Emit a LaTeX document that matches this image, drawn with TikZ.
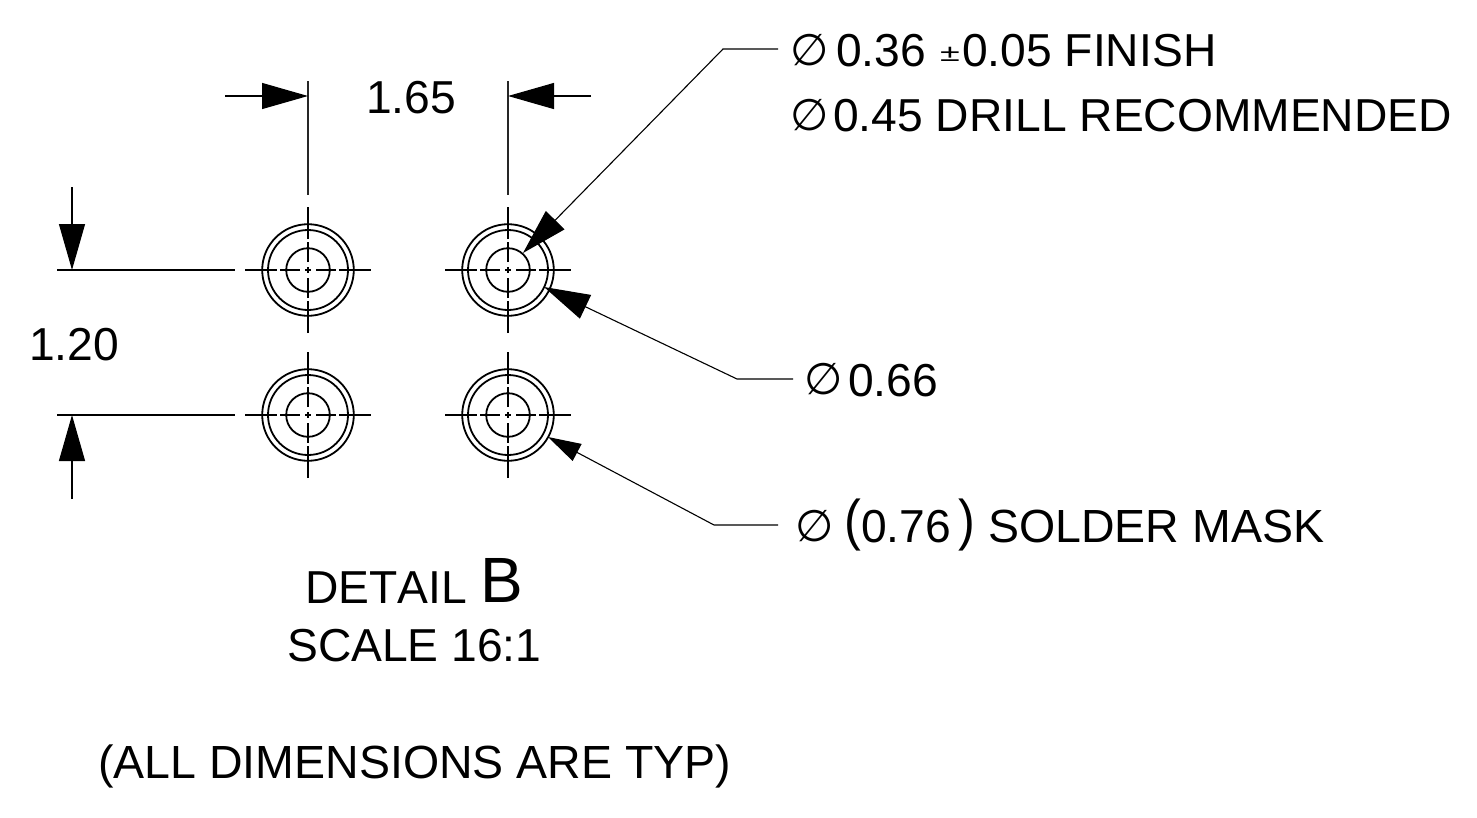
\documentclass[tikz,border=0pt]{standalone}
\usepackage{fontspec}
\usepackage{graphicx}
\setmainfont[Kerning=Off]{Liberation Sans}
\newfontfamily\dfont{DejaVu Sans}
\usetikzlibrary{arrows.meta}
\newcommand{\dia}{{\dfont\fontsize{44}{44}\selectfont ∅}}
\begin{document}
\begin{tikzpicture}[x=1pt,y=-1pt,
  thinline/.style={line width=1.1pt,black!85},
  ctr/.style={line width=1.1pt,black},
  ringa/.style={draw,circle,line width=1.8pt,inner sep=0pt},
  head/.style={-{Triangle[length=46pt,width=26pt]}},
  smallhead/.style={-{Triangle[length=33pt,width=19pt]}},
  lbl/.style={inner sep=0pt,anchor=base west,font=\fontsize{46.2}{46.2}\selectfont},
  lblw/.style={lbl,font=\fontsize{46.5}{46.5}\selectfont},
  sym/.style={inner sep=0pt,anchor=center}]
\useasboundingbox (0,0) rectangle (1477,817);
\fill[white] (0,0) rectangle (1477,817);

% holes
\foreach \n/\x/\y in {tl/308/270,tr/508/270,bl/308/415,br/508/415}{
  \coordinate (\n) at (\x,\y);
  \node[ringa,minimum size=91.6pt] (\n o) at (\n) {};
  \node[ringa,minimum size=80pt] (\n m) at (\n) {};
  \node[ringa,minimum size=43.6pt] (\n i) at (\n) {};
  \foreach \a/\b in {-63/-31,-28/-8,-3/3,8/28,31/63}{
    \draw[ctr] ([xshift=\a pt]\n) -- ([xshift=\b pt]\n);
    \draw[ctr] ([yshift=\a pt]\n) -- ([yshift=\b pt]\n);
  }
}

% horizontal dimension 1.65
\coordinate (e1a) at (308,81); \coordinate (e1b) at (308,195);
\coordinate (e2a) at (508,81); \coordinate (e2b) at (508,195);
\draw[thinline] (e1a) -- (e1b);
\draw[thinline] (e2a) -- (e2b);
\coordinate (t1) at (225,96); \coordinate (t1h) at (308,96);
\coordinate (t2) at (591,96); \coordinate (t2h) at (508,96);
\draw[thinline,head,black] (t1) -- (t1h);
\draw[thinline,head,black] (t2) -- (t2h);
\node[lbl] (d165) at (366,113) {1.65};

% vertical dimension 1.20
\coordinate (e3a) at (57,270); \coordinate (e3b) at (235,270);
\coordinate (e4a) at (57,415); \coordinate (e4b) at (235,415);
\draw[ctr] (e3a) -- (e3b);
\draw[ctr] (e4a) -- (e4b);
\coordinate (t3) at (72,187); \coordinate (t3h) at (72,270);
\coordinate (t4) at (72,499); \coordinate (t4h) at (72,415);
\draw[ctr,head] (t3) -- (t3h);
\draw[ctr,head] (t4) -- (t4h);
\node[lbl] (d120) at (29,360) {1.20};

% leaders
\coordinate (l1s) at (778,49); \coordinate (l1k) at (723,49); \coordinate (l1t) at (523,253);
\coordinate (l2s) at (793,379); \coordinate (l2k) at (737,379); \coordinate (l2t) at (544,287);
\coordinate (l3s) at (778,525); \coordinate (l3k) at (714,525); \coordinate (l3t) at (548,437);
\draw[thinline,head,black] (l1s) -- (l1k) -- (l1t);
\draw[thinline,head,black] (l2s) -- (l2k) -- (l2t);
\draw[thinline,smallhead,black] (l3s) -- (l3k) -- (l3t);

% callout text
\node[sym] (s1) at (809.5,50) {\dia};
\node[lbl] (a1) at (836,66) {0.36};
\node[lbl,font=\fontsize{24}{24}\selectfont] (a2) at (940,61) {\scalebox{1.5}[1]{±}};
\node[lbl] (a3) at (962,66) {0.05 FINISH};
\node[sym] (s2) at (809.5,115) {\dia};
\node[lbl] (b1) at (833,131) {0.45 DRILL RECOMMENDED};
\node[sym] (s3) at (824,379) {\dia};
\node[lbl] (c1) at (848,396) {0.66};
\node[sym] (s4) at (815,526) {\dia};
\node[inner sep=0pt,anchor=center] (p1) at (853,525) {\scalebox{0.9}[1.0]{\fontsize{56}{56}\selectfont (}};
\node[lbl] (m1) at (861,542) {0.76};
\node[inner sep=0pt,anchor=center] (p2) at (967,525) {\scalebox{0.9}[1.0]{\fontsize{56}{56}\selectfont )}};
\node[lblw] (m2) at (988,542) {SOLDER MASK};

% titles
\node[lbl] (t1x) at (305,603) {DETAIL};
\node[lbl,font=\fontsize{64}{64}\selectfont] (t2x) at (480,602) {B};
\node[lbl] (t3x) at (287,661) {SCALE 16:1};
\node[lblw] (t4x) at (98,778) {(ALL DIMENSIONS ARE TYP)};
\end{tikzpicture}
\end{document}
